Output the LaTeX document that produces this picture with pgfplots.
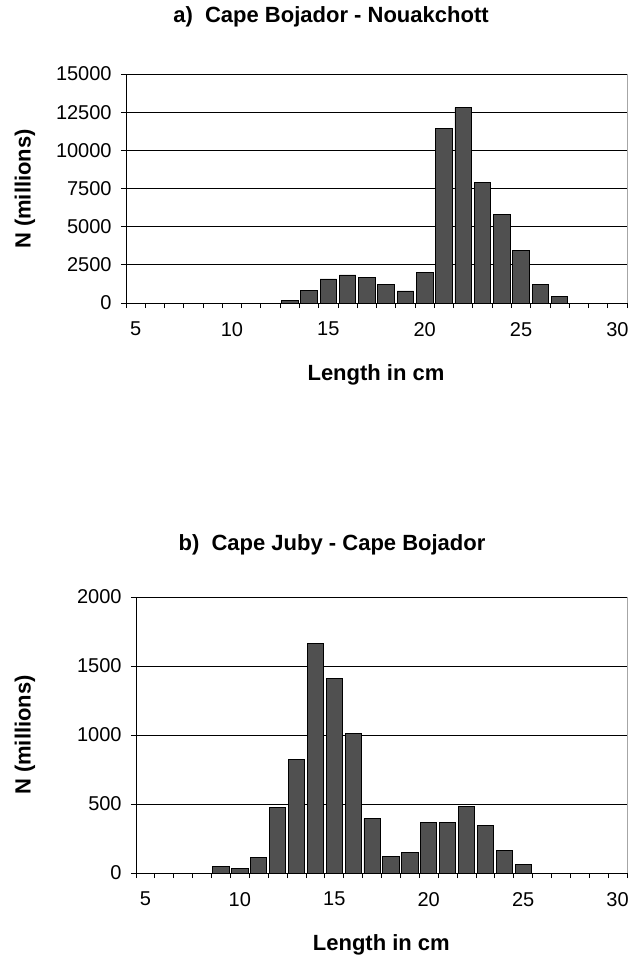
\documentclass[border=0pt]{standalone}
\usepackage{fontspec}
\setmainfont{Liberation Sans}
\usepackage{pgfplots}
\pgfplotsset{compat=1.18}
\definecolor{barfill}{HTML}{505050}

\pgfplotsset{
  lenhist/.style={
    scale only axis,
    anchor=south west,
    xmin=4.5, xmax=30.5,
    ymin=0,
    axis lines*=left,
    axis line style={black, line width=0.7pt},
    tick align=outside,
    xtick={5,10,...,30},
    minor xtick={4.5,5.5,...,30.5},
    major x tick style={draw=none},
    minor tick length=3.75pt,
    major tick length=3.75pt,
    every tick/.style={black, line width=0.6pt},
    ymajorgrids,
    grid style={black, line width=0.6pt},
    scaled y ticks=false,
    /pgf/number format/assume math mode=true,
    /pgf/number format/1000 sep={},
    tick label style={font=\fontsize{15}{18}\selectfont},
    xticklabel style={yshift=-7pt},
    yticklabel style={xshift=-3.5pt},
    clip=false,
  },
  lenbar/.style={
    ybar, bar width=0.86, bar shift=0pt,
    fill=barfill, draw=black, line width=0.6pt,
  },
}

\begin{document}
\begin{tikzpicture}
\path[use as bounding box] (0,0) rectangle (473.25pt,-719.25pt);

% a) Cape Bojador - Nouakchott
\begin{axis}[lenhist,
  at={(94.5pt,-227.25pt)},
  width=375.75pt, height=171.75pt,
  ymax=15000, ytick={0,2500,...,15000}]
\addplot[lenbar] coordinates {
  (13,180) (14,850) (15,1575) (16,1840) (17,1700) (18,1200) (19,790)
  (20,2000) (21,11450) (22,12800) (23,7900) (24,5800) (25,3450)
  (26,1200) (27,450)
};
\draw[gray!70, line width=0.6pt] (rel axis cs:1,0) -- (rel axis cs:1,1);
\end{axis}

% b) Cape Juby - Cape Bojador
\begin{axis}[lenhist,
  at={(102pt,-654.75pt)},
  width=368.25pt, height=207pt,
  ymax=2000, ytick={0,500,...,2000}]
\addplot[lenbar] coordinates {
  (9,50) (10,36) (11,113) (12,477) (13,824) (14,1663) (15,1407)
  (16,1010) (17,395) (18,120) (19,150) (20,366) (21,366) (22,484)
  (23,342) (24,164) (25,65)
};
\draw[gray!70, line width=0.6pt] (rel axis cs:1,0) -- (rel axis cs:1,1);
\end{axis}

% titles and axis labels
\begin{scope}[every node/.style={font=\bfseries\fontsize{16.5}{20}\selectfont, inner sep=0pt}]
\node[anchor=base] at (248.25pt,-17.25pt) {a)\ \ Cape Bojador - Nouakchott};
\node[anchor=base] at (249pt,-412.5pt) {b)\ \ Cape Juby - Cape Bojador};
\node[anchor=base] at (282pt,-285pt) {Length in cm};
\node[anchor=base] at (286pt,-712.5pt) {Length in cm};
\node[rotate=90] at (18.75pt,-141.75pt) {N (millions)};
\node[rotate=90] at (18.75pt,-551.25pt) {N (millions)};
\end{scope}
\end{tikzpicture}
\end{document}
